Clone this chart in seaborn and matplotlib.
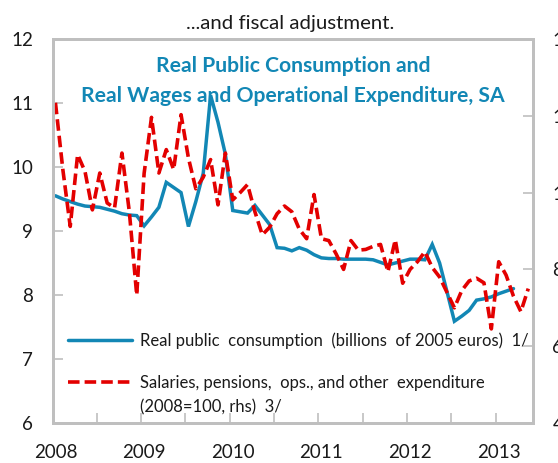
import numpy as np
import pandas as pd
import matplotlib
matplotlib.use("Agg")
import matplotlib.pyplot as plt
import matplotlib.transforms as mtransforms
from matplotlib.lines import Line2D
import seaborn as sns

# ---------------- data ----------------
# Real public consumption (billions of 2005 euros), monthly, Jan 2008 - Mar 2013 (lhs)
consumption = [9.55, 9.50, 9.46, 9.42, 9.39, 9.38, 9.37, 9.34, 9.31, 9.27, 9.25, 9.24,
               9.08, 9.22, 9.37, 9.76, 9.68, 9.60, 9.07, 9.46, 9.90, 11.12, 10.70, 10.20,
               9.32, 9.30, 9.28, 9.40, 9.25, 9.10, 8.74, 8.73, 8.69, 8.74, 8.70, 8.63,
               8.58, 8.57, 8.57, 8.56, 8.56, 8.56, 8.56, 8.55, 8.51, 8.47, 8.50, 8.53,
               8.56, 8.56, 8.55, 8.79, 8.50, 8.05, 7.59, 7.67, 7.76, 7.92, 7.94, 7.97,
               8.02, 8.06, 8.10]
# Salaries, pensions, ops., and other expenditure (2008=100), monthly, Jan 2008 - May 2013 (rhs)
expenditure = [123.4, 106.0, 91.2, 109.9, 105.5, 95.5, 105.1, 97.3, 96.0, 110.3, 95.0, 73.3,
               105.0, 119.6, 105.1, 111.2, 106.0, 120.3, 109.0, 101.0, 104.0, 108.6, 96.8, 110.3,
               98.1, 100.0, 102.1, 95.0, 89.0, 91.0, 94.5, 96.5, 95.0, 90.5, 88.0, 99.5,
               88.0, 87.5, 84.0, 80.0, 87.5, 85.0, 85.2, 86.0, 86.5, 79.4, 87.7, 76.4,
               80.0, 82.0, 84.6, 80.5, 78.0, 74.0, 70.0, 74.5, 77.0, 77.7, 76.5, 64.5,
               82.0, 78.5, 73.0, 69.0, 75.0]
years = [2008, 2009, 2010, 2011, 2012, 2013]
left_ticks = [6, 7, 8, 9, 10, 11, 12]
right_ticks = [40, 60, 80, 100, 120, 140]

t_cons = [2008 + (i + 0.4) / 12 for i in range(len(consumption))]
t_exp = [2008 + (i + 0.4) / 12 for i in range(len(expenditure))]
df_c = pd.DataFrame({"t": t_cons, "v": consumption})
df_e = pd.DataFrame({"t": t_exp, "v": expenditure})

BLUE = "#1287B5"
RED = "#E30000"
GRAY = "#BFBFBF"
TXT = "#1a1a1a"

sns.set_theme(style="white")
plt.rcParams["font.family"] = ["Lato", "DejaVu Sans"]

W, H = 558, 463
fig = plt.figure(figsize=(W / 100, H / 100), dpi=100)
L, R, T, B = 52.5, 533, 39, 423
ax = fig.add_axes([L / W, 1 - B / H, (R - L) / W, (B - T) / H])
ax2 = ax.twinx()

sns.lineplot(data=df_c, x="t", y="v", ax=ax, color=BLUE, linewidth=2.5,
             solid_joinstyle="miter")
sns.lineplot(data=df_e, x="t", y="v", ax=ax2, color=RED, linewidth=2.6,
             linestyle=(0, (3.2, 1.4)))

ax.set_xlim(2008.0, 2013.42)
ax.set_ylim(6, 12)
ax2.set_ylim(40, 140)
ax.set_xlabel("")
ax.set_ylabel("")
ax2.set_ylabel("")

ax.set_xticks(years)
ax.set_xticks(np.arange(2008.5, 2013.5, 0.5), minor=True)
ax.set_xticklabels([str(y) for y in years])
ax.set_yticks(left_ticks)
ax.set_yticklabels([str(v) for v in left_ticks])
ax2.set_yticks(right_ticks)
ax2.set_yticklabels([str(v) for v in right_ticks])

for a in (ax, ax2):
    for s in a.spines.values():
        s.set_color(GRAY)
        s.set_linewidth(2)

ax.tick_params(axis="x", which="both", direction="in", length=7, width=1.2,
               color=GRAY, labelsize=13.5, pad=15, labelcolor=TXT, bottom=True)
ax.tick_params(axis="y", direction="in", length=7, width=1.2, color=GRAY,
               labelsize=13.5, pad=14, labelcolor=TXT, left=True)
ax2.tick_params(axis="y", direction="in", length=7, width=1.2, color=GRAY,
                labelsize=13.5, pad=14, labelcolor=TXT, right=True)

offset = mtransforms.ScaledTranslation(3 / 100, 0, fig.dpi_scale_trans)
for lab in ax.get_xticklabels():
    lab.set_transform(lab.get_transform() + offset)

# titles
fig.text(290 / W, 1 - 23 / H, "...and fiscal adjustment.", ha="center", va="center",
         fontsize=14.7, color=TXT)
ax.text(0.5, 1 - (66 - T) / (B - T), "Real Public Consumption and", transform=ax.transAxes,
        ha="center", va="center", fontsize=15.2, fontweight="bold", color=BLUE)
ax.text(0.5, 1 - (95.5 - T) / (B - T), "Real Wages and Operational Expenditure, SA",
        transform=ax.transAxes, ha="center", va="center", fontsize=15.2,
        fontweight="bold", color=BLUE)

# legend
h1 = Line2D([], [], color=BLUE, linewidth=2.5)
h2 = Line2D([], [], color=RED, linewidth=2.6, linestyle=(0, (3.2, 1.4)))
leg = ax.legend([h1, h2],
                ["Real public  consumption  (billions  of 2005 euros)  1/",
                 "Salaries, pensions,  ops., and other  expenditure"],
                loc="upper left", bbox_to_anchor=(68 / W, 1 - 332 / H),
                bbox_transform=fig.transFigure, frameon=False, fontsize=12,
                handlelength=3.85, handletextpad=0.48, labelspacing=1.6,
                borderpad=0, borderaxespad=0)
for txt in leg.get_texts():
    txt.set_color(TXT)
fig.text(140 / W, 1 - 407 / H, "(2008=100, rhs)  3/", ha="left", va="center",
         fontsize=12, color=TXT)

fig.savefig("out.png", dpi=100)
